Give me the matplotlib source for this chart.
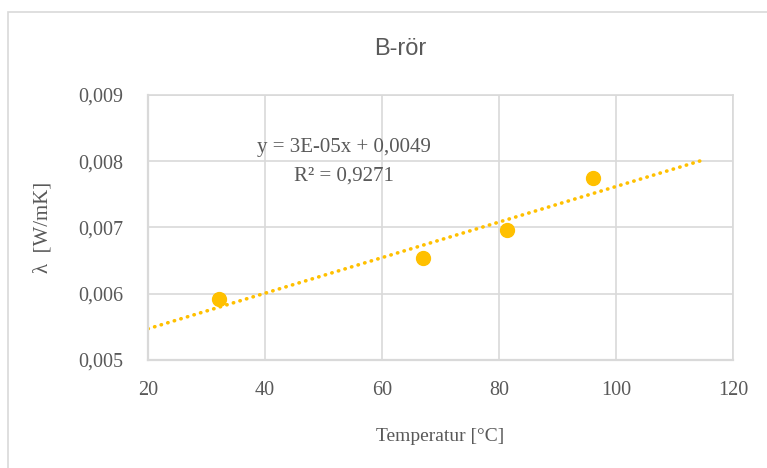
import numpy as np
import matplotlib.pyplot as plt
from matplotlib.patches import Rectangle

# Mätdata
temp = [32.1, 67.0, 81.3, 96.1]
lam = [0.00592, 0.00654, 0.00696, 0.00774]
trend_x = [20, 115]
eq_text = "y = 3E-05x + 0,0049"
r2_text = "R² = 0,9271"
xticks = [20, 40, 60, 80, 100, 120]
yticks = [0.005, 0.006, 0.007, 0.008, 0.009]

grey = '#595959'
gridc = '#D9D9D9'
gold = '#FFC000'
serif = ['Liberation Serif', 'DejaVu Serif']

fig = plt.figure(figsize=(7.67, 4.68), dpi=100, facecolor='white')
ax = fig.add_axes([148/767, 1 - 360/468, (733-148)/767, (360-95)/468])

# Outer chart border
fig.patches.append(Rectangle((8/767, -0.1), 1.1, 0.1 + (468-12)/468, transform=fig.transFigure,
                             fill=False, edgecolor=gridc, lw=1.2))

# Linear trendline (least squares)
k, m = np.polyfit(temp, lam, 1)
tx = np.array(trend_x)
ax.plot(tx, k * tx + m, color=gold, lw=2.6, linestyle=(0, (0.1, 1.8)),
        dash_capstyle='round', zorder=2)
ax.plot(temp, lam, 'o', color=gold, markersize=10, zorder=3)

ax.set_xlim(20, 120)
ax.set_ylim(0.005, 0.009)
ax.set_xticks(xticks)
ax.set_yticks(yticks)
ax.set_xticklabels([str(t) for t in xticks], family=serif, fontsize=14.5, color=grey)
ax.set_yticklabels([f"{t:.3f}".replace('.', ',') for t in yticks], family=serif, fontsize=14.5, color=grey)
ax.tick_params(length=0)
ax.tick_params(axis='x', pad=15)
ax.tick_params(axis='y', pad=18)
ax.grid(True, color=gridc, lw=1.2)
ax.set_axisbelow(True)
for s in ax.spines.values():
    s.set_color(gridc)
    s.set_linewidth(1.2)
ax.spines['bottom'].set_linewidth(1.6)
ax.spines['left'].set_linewidth(1.6)

ax.text(53.5, 0.00820, eq_text, ha='center', va='center', family=serif, fontsize=15, color=grey)
ax.text(53.5, 0.00777, r2_text, ha='center', va='center', family=serif, fontsize=15, color=grey)

ax.set_xlabel("Temperatur [°C]", family=serif, fontsize=14, color=grey, labelpad=20)
ax.set_ylabel("λ  [W/mK]", family=serif, fontsize=15, color=grey, labelpad=18)

fig.text(400/767, 1 - 49/468, "B-rör", ha='center', va='center',
         family=['Liberation Sans', 'DejaVu Sans'], fontsize=17, color=grey)

plt.savefig('out.png', dpi=100)
